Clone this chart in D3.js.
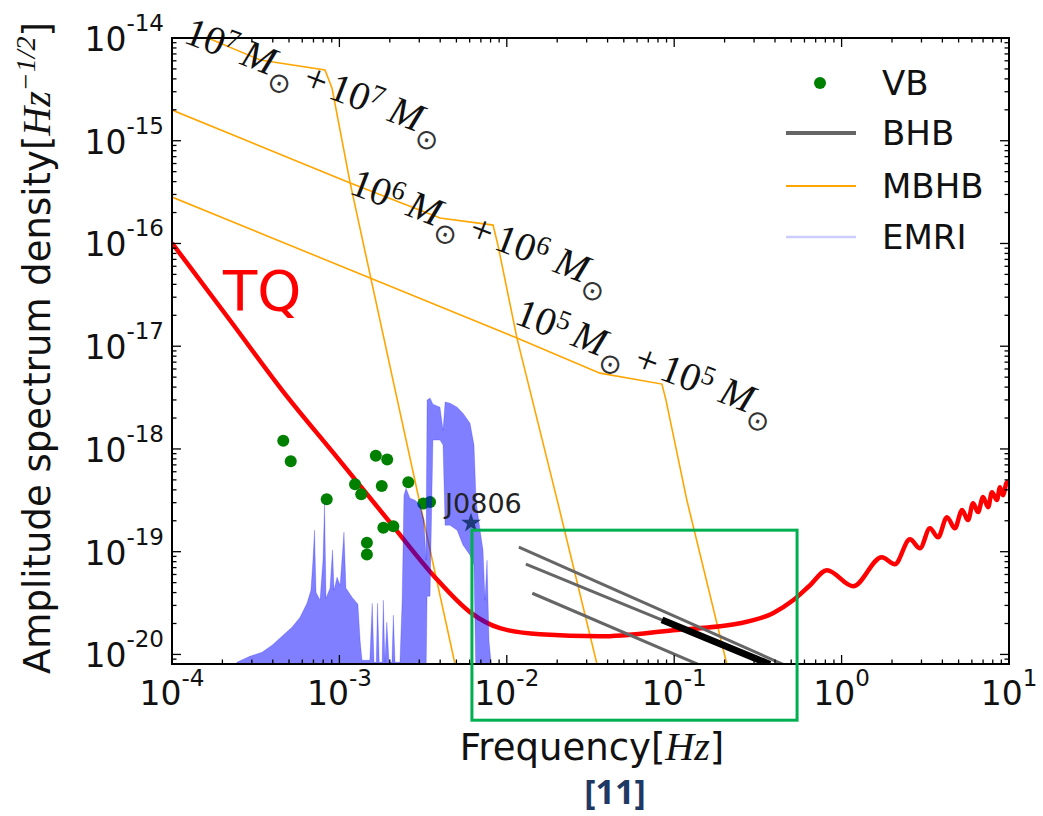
<!DOCTYPE html>
<html>
<head>
<meta charset="utf-8">
<script src="https://cdn.jsdelivr.net/npm/d3@7"></script>
<style>
  body { margin: 0; background: #fff; }
  text { white-space: pre; }
</style>
</head>
<body>
<script>
// values: frequency in Hz, amplitude spectral density in Hz^-1/2

// TianQin sensitivity
const tqFreq = [1e-4, 2.22e-4, 4.54e-4, 9.55e-4, 2.0e-3, 3.72e-3, 6.03e-3, 9.1e-3, 1.58e-2, 3.6e-2, 9.84e-2, 0.247, 0.389, 0.513, 0.648, 0.818, 1.17, 1.74, 2.08, 2.56, 2.94, 3.37, 3.77, 4.26, 4.75, 5.24, 5.69, 6.10, 6.53, 7.0, 7.5, 7.91, 8.47, 8.83, 9.2, 9.73, 10];
const tqAsd = [1.01e-16, 1.79e-17, 3.74e-18, 8.51e-19, 1.94e-19, 5.65e-20, 2.58e-20, 1.8e-20, 1.57e-20, 1.5e-20, 1.72e-20, 2.01e-20, 2.52e-20, 3.37e-20, 4.72e-20, 6.61e-20, 4.61e-20, 8.85e-20, 7.55e-20, 1.32e-19, 1.08e-19, 1.69e-19, 1.38e-19, 2.17e-19, 1.69e-19, 2.54e-19, 2.03e-19, 2.96e-19, 2.43e-19, 3.40e-19, 2.71e-19, 3.79e-19, 3.18e-19, 4.25e-19, 3.55e-19, 4.75e-19, 4.45e-19];

// massive black hole binaries (equal mass)
const mbhbMasses = ["7", "6", "5"];
const mbhb7Freq = [1e-4, 1.64e-4, 3.36e-4, 8.2e-4, 9.03e-4, 1.16e-3, 2.09e-3, 4.91e-3, 6.55e-3];
const mbhb7Asd = [1.40e-14, 1e-14, 6.11e-15, 4.88e-15, 3.26e-15, 3.87e-16, 4.68e-18, 8.0e-21, 9.3e-22];
const mbhb6Freq = [1e-4, 1.16e-3, 3.99e-3, 8.28e-3, 8.85e-3, 1.15e-2, 2.0e-2, 3.46e-2, 4.43e-2];
const mbhb6Asd = [1.99e-15, 3.87e-16, 1.77e-16, 1.51e-16, 9.64e-17, 1.20e-17, 3.18e-19, 8.0e-21, 1.46e-21];
const mbhb5Freq = [1e-4, 1.15e-2, 3.6e-2, 8.45e-2, 8.93e-2, 0.119, 0.2065, 0.265];
const mbhb5Asd = [2.83e-16, 1.20e-17, 5.47e-18, 4.28e-18, 2.99e-18, 3.18e-19, 8.0e-21, 1.46e-21];

// verification binaries
const vbFreq = [4.62e-4, 5.12e-4, 8.40e-4, 1.24e-3, 1.35e-3, 1.65e-3, 1.93e-3, 1.79e-3, 2.58e-3, 1.83e-3, 2.10e-3, 1.46e-3, 1.46e-3, 3.17e-3, 3.48e-3];
const vbAsd = [1.20e-18, 7.60e-19, 3.24e-19, 4.54e-19, 3.63e-19, 8.57e-19, 7.91e-19, 4.35e-19, 4.75e-19, 1.71e-19, 1.77e-19, 1.22e-19, 9.40e-20, 2.94e-19, 3.05e-19];

// J0806
const j0806Freq = [6.11e-3];
const j0806Asd = [1.90e-19];

// stellar-mass black hole binaries
const bhbFreq = [[1.18e-2, 0.447], [1.30e-2, 0.373], [1.42e-2, 0.139]];
const bhbAsd = [[1.11e-19, 8.0e-21], [7.55e-20, 8.0e-21], [3.94e-20, 8.0e-21]];
const bhbBoldFreq = [8.45e-2, 0.373];
const bhbBoldAsd = [2.17e-20, 8.0e-21];

// extreme mass ratio inspirals: band between emriLow and emriHigh
const emriFreq = [2.44e-4, 2.92e-4, 3.45e-4, 3.96e-4, 4.54e-4, 5.21e-4, 5.82e-4, 6.40e-4, 6.76e-4, 6.95e-4,
  7.10e-4, 7.25e-4, 7.66e-4, 7.98e-4, 8.15e-4, 8.32e-4, 8.79e-4, 9.10e-4, 9.29e-4, 9.68e-4,
  1.01e-3, 1.065e-3, 1.094e-3, 1.19e-3, 1.29e-3, 1.33e-3, 1.365e-3, 1.52e-3, 1.57e-3, 1.61e-3,
  1.66e-3, 1.69e-3, 1.73e-3, 1.80e-3, 1.83e-3, 1.87e-3, 1.92e-3, 1.98e-3, 2.06e-3, 2.10e-3,
  2.15e-3, 2.30e-3, 2.37e-3, 2.43e-3, 2.50e-3, 2.64e-3, 2.83e-3, 3.03e-3, 3.20e-3, 3.29e-3,
  3.34e-3, 3.48e-3, 3.62e-3, 3.99e-3, 4.16e-3, 4.28e-3, 4.58e-3, 5.05e-3, 5.47e-3, 6.03e-3,
  6.37e-3, 6.55e-3, 6.92e-3, 7.21e-3, 7.41e-3, 7.62e-3, 7.83e-3, 8.05e-3];
const emriHigh = [8.39e-21, 9.6e-21, 1.05e-20, 1.23e-20, 1.50e-20, 1.84e-20, 2.30e-20, 3.15e-20, 4.22e-20, 8.26e-20,
  1.62e-19, 4.04e-20, 3.37e-20, 8.26e-20, 2.96e-19, 3.52e-20, 4.42e-20, 1.04e-19, 4.22e-20, 5.65e-20,
  4.72e-20, 1.55e-19, 4.42e-20, 3.60e-20, 3.08e-20, 1.37e-20, 8.79e-21, 8.79e-21, 3.15e-20, 8.39e-21,
  8.39e-21, 3.15e-20, 8.39e-21, 8.39e-21, 3.37e-20, 8.39e-21, 2.06e-20, 8.39e-21, 8.39e-21, 2.41e-20,
  8.39e-21, 8.39e-21, 3.37e-20, 3.55e-19, 4.15e-19, 3.32e-19, 3.17e-19, 2.84e-19, 2.03e-19, 8.26e-20,
  2.99e-18, 3.13e-18, 2.73e-18, 2.55e-18, 1.52e-18, 2.86e-18, 2.79e-18, 2.55e-18, 2.23e-18, 1.78e-18,
  1.09e-18, 3.17e-19, 1.62e-19, 1.04e-19, 3.37e-20, 8.26e-20, 1.37e-20, 8.39e-21];
const emriLow = [5e-21, 5e-21, 5e-21, 5e-21, 5e-21, 5e-21, 5e-21, 5e-21, 5e-21, 5e-21,
  5e-21, 5e-21, 5e-21, 5e-21, 5e-21, 5e-21, 5e-21, 5e-21, 5e-21, 5e-21,
  5e-21, 5e-21, 5e-21, 5e-21, 5e-21, 5e-21, 5e-21, 5e-21, 5e-21, 5e-21,
  5e-21, 5e-21, 5e-21, 5e-21, 5e-21, 5e-21, 5e-21, 5e-21, 5e-21, 5e-21,
  5e-21, 5e-21, 5e-21, 5e-21, 5e-21, 5e-21, 5e-21, 5e-21, 5e-21, 5e-21,
  3.69e-20, 3.69e-20, 1.22e-18, 1.22e-18, 1.09e-18, 1.81e-19, 1.81e-19, 1.62e-19, 1.16e-19, 9.25e-20,
  7.40e-20, 5e-21, 5e-21, 5e-21, 5e-21, 5e-21, 5e-21, 5e-21];

// ticks
const xTickExp = ["-4", "-3", "-2", "-1", "0", "1"];
const yTickExp = ["-20", "-19", "-18", "-17", "-16", "-15", "-14"];
const legendLabels = ["VB", "BHB", "MBHB", "EMRI"];

// anchors for the text notes (data coordinates)
const massNoteFreq = [1.15e-4, 1.125e-3, 1.09e-2];
const massNoteAsd = [9.14e-15, 3.10e-16, 1.68e-17];
const tqNote = {f: 2.02e-4, h: 2.25e-17};
const j0806Note = {f: 4.28e-3, h: 2.37e-19};
const zoomBox = {f0: 6.19e-3, f1: 0.542, h0: 2.29e-21, h1: 1.62e-19};

const width = 1043, height = 816;
const sans = "DejaVu Sans, Verdana, sans-serif";
const serif = "Liberation Serif, Times New Roman, serif";

const svg = d3.select("body").append("svg")
  .attr("width", width).attr("height", height)
  .style("background", "#fff");

const x = d3.scaleLog().domain([1e-4, 10]).range([172, 1009]);
const y = d3.scaleLog().domain([8.07e-21, 1e-14]).range([664, 38]);
const [x0, x1] = x.range();
const [y0, y1] = y.range();

svg.append("clipPath").attr("id", "plot")
  .append("rect").attr("x", x0).attr("y", y1).attr("width", x1 - x0).attr("height", y0 - y1);

const plot = svg.append("g").attr("clip-path", "url(#plot)");

const line = d3.line().x(d => x(d[0])).y(d => y(d[1]));
const pairs = (fs, hs) => fs.map((f, i) => [f, hs[i]]);

// MBHB tracks
[[mbhb7Freq, mbhb7Asd], [mbhb6Freq, mbhb6Asd], [mbhb5Freq, mbhb5Asd]].forEach(([fs, hs]) => {
  plot.append("path").attr("d", line(pairs(fs, hs)))
    .attr("fill", "none").attr("stroke", "orange").attr("stroke-width", 1.6);
});

// TQ curve
plot.append("path")
  .attr("d", line.curve(d3.curveMonotoneX)(pairs(tqFreq, tqAsd)))
  .attr("fill", "none").attr("stroke", "red").attr("stroke-width", 4.5)
  .attr("stroke-linejoin", "round");
line.curve(d3.curveLinear);

// VB
plot.selectAll("circle.vb").data(pairs(vbFreq, vbAsd)).join("circle")
  .attr("class", "vb")
  .attr("cx", d => x(d[0])).attr("cy", d => y(d[1])).attr("r", 6)
  .attr("fill", "green");

// EMRI
const area = d3.area()
  .x((d, i) => x(emriFreq[i]))
  .y0((d, i) => y(emriLow[i]))
  .y1((d, i) => y(emriHigh[i]));
plot.append("path").attr("d", area(emriFreq))
  .attr("fill", "blue").attr("fill-opacity", 0.5)
  .attr("stroke", "blue").attr("stroke-opacity", 0.25).attr("stroke-width", 0.8);

// BHB
bhbFreq.forEach((fs, i) => {
  plot.append("path").attr("d", line(pairs(fs, bhbAsd[i])))
    .attr("fill", "none").attr("stroke", "#666").attr("stroke-width", 3);
});
plot.append("path").attr("d", line(pairs(bhbBoldFreq, bhbBoldAsd)))
  .attr("fill", "none").attr("stroke", "#000").attr("stroke-width", 7);

// J0806 star
plot.selectAll("path.star").data(pairs(j0806Freq, j0806Asd)).join("path")
  .attr("class", "star")
  .attr("transform", d => `translate(${x(d[0])},${y(d[1])})`)
  .attr("d", d3.symbol(d3.symbolStar, 120))
  .attr("fill", "#1f3a7a");

svg.append("text")
  .attr("x", x(j0806Note.f)).attr("y", y(j0806Note.h))
  .attr("font-family", sans).attr("font-size", 27).attr("fill", "#222")
  .text("J0806");

svg.append("text")
  .attr("x", x(tqNote.f)).attr("y", y(tqNote.h))
  .attr("font-family", sans).attr("font-size", 56).attr("fill", "red")
  .text("TQ");

// mass notes along the MBHB tracks
massNoteFreq.forEach((f, i) => {
  const e = mbhbMasses[i];
  const t = svg.append("text")
    .attr("transform", `translate(${x(f)},${y(massNoteAsd[i])}) rotate(21)`)
    .attr("font-family", serif).attr("font-size", 40).attr("fill", "#111");
  const mass = (lead) => {
    t.append("tspan").attr("dx", lead).text("10");
    t.append("tspan").attr("dy", -12).attr("font-size", 27).text(e);
    t.append("tspan").attr("dy", 12).attr("dx", 7).attr("font-style", "italic").text("M");
    t.append("tspan").attr("dy", 13).attr("font-family", sans).attr("font-size", 28)
      .attr("fill", "#333").text("\u2299");
    t.append("tspan").attr("dy", -13).attr("dx", 10).text("+");
  };
  mass(0);
  // second body
  t.append("tspan").attr("dx", 5).text("10");
  t.append("tspan").attr("dy", -12).attr("font-size", 27).text(e);
  t.append("tspan").attr("dy", 12).attr("dx", 10).attr("font-style", "italic").text("M");
  t.append("tspan").attr("dy", 13).attr("font-family", sans).attr("font-size", 28)
    .attr("fill", "#333").text("\u2299");
});

// frame and ticks (inward on all four sides)
const ticks = svg.append("g").attr("stroke", "#000");
const xt = x.ticks();
const yt = y.ticks();
const isMajor = v => Math.abs(Math.log10(v) - Math.round(Math.log10(v))) < 1e-6;
xt.forEach(v => {
  const L = isMajor(v) ? 9 : 4.5;
  const px = x(v);
  ticks.append("line").attr("x1", px).attr("x2", px).attr("y1", y0).attr("y2", y0 - L).attr("stroke-width", 1.3);
  ticks.append("line").attr("x1", px).attr("x2", px).attr("y1", y1).attr("y2", y1 + L).attr("stroke-width", 1.3);
});
yt.filter(v => y(v) <= y0 + 0.5).forEach(v => {
  const L = isMajor(v) ? 9 : 4.5;
  const py = y(v);
  ticks.append("line").attr("y1", py).attr("y2", py).attr("x1", x0).attr("x2", x0 + L).attr("stroke-width", 1.3);
  ticks.append("line").attr("y1", py).attr("y2", py).attr("x1", x1).attr("x2", x1 - L).attr("stroke-width", 1.3);
});
svg.append("rect").attr("x", x0).attr("y", y1).attr("width", x1 - x0).attr("height", y0 - y1)
  .attr("fill", "none").attr("stroke", "#000").attr("stroke-width", 2);

// tick labels
xTickExp.forEach(e => {
  const t = svg.append("text")
    .attr("x", x(Math.pow(10, +e))).attr("y", 705)
    .attr("text-anchor", "middle").attr("font-family", sans).attr("font-size", 33).attr("fill", "#111");
  t.append("tspan").text("10");
  t.append("tspan").attr("dy", -19).attr("font-size", 23).text(e);
});
yTickExp.forEach(e => {
  const t = svg.append("text")
    .attr("x", 164).attr("y", y(Math.pow(10, +e)) + 13)
    .attr("text-anchor", "end").attr("font-family", sans).attr("font-size", 33).attr("fill", "#111");
  t.append("tspan").text("10");
  t.append("tspan").attr("dy", -20).attr("font-size", 23).text(e);
});

// axis titles
const xl = svg.append("text")
  .attr("x", 592).attr("y", 760)
  .attr("text-anchor", "middle").attr("font-family", sans).attr("font-size", 37).attr("fill", "#111");
xl.append("tspan").text("Frequency[");
xl.append("tspan").attr("font-family", serif).attr("font-style", "italic").attr("font-size", 40).text("Hz");
xl.append("tspan").text("]");

const yl = svg.append("text")
  .attr("transform", "translate(50,348) rotate(-90)")
  .attr("text-anchor", "middle").attr("font-family", sans).attr("font-size", 37).attr("fill", "#111");
yl.append("tspan").text("Amplitude spectrum density[");
yl.append("tspan").attr("font-family", serif).attr("font-style", "italic").attr("font-size", 40).text("Hz");
yl.append("tspan").attr("dy", -15).attr("font-family", serif).attr("font-style", "italic").attr("font-size", 28).text("\u22121/2");
yl.append("tspan").attr("dy", 15).text("]");

// legend
const legend = svg.append("g").attr("font-family", sans).attr("font-size", 34).attr("fill", "#111");
const legendY = [83, 133, 186, 237];
legendLabels.forEach((name, i) => {
  const ly = legendY[i];
  if (name === "VB") {
    legend.append("circle").attr("cx", 820).attr("cy", ly).attr("r", 6).attr("fill", "green");
  } else {
    const st = {BHB: ["#666", 4, 1], MBHB: ["orange", 2, 1], EMRI: ["blue", 2.5, 0.2]}[name];
    legend.append("line").attr("x1", 786).attr("x2", 856).attr("y1", ly).attr("y2", ly)
      .attr("stroke", st[0]).attr("stroke-width", st[1]).attr("stroke-opacity", st[2]);
  }
  legend.append("text").attr("x", 882).attr("y", ly + 12).text(name);
});

// highlighted band
svg.append("rect")
  .attr("x", x(zoomBox.f0)).attr("y", y(zoomBox.h1))
  .attr("width", x(zoomBox.f1) - x(zoomBox.f0)).attr("height", y(zoomBox.h0) - y(zoomBox.h1))
  .attr("fill", "none").attr("stroke", "#00b050").attr("stroke-width", 3);

// reference tag
svg.append("text")
  .attr("x", 615).attr("y", 804).attr("text-anchor", "middle")
  .attr("font-family", "Noto Sans, Open Sans, sans-serif").attr("font-weight", "bold")
  .attr("font-size", 34).attr("fill", "#1f3864")
  .text("[11]");
</script>
</body>
</html>
